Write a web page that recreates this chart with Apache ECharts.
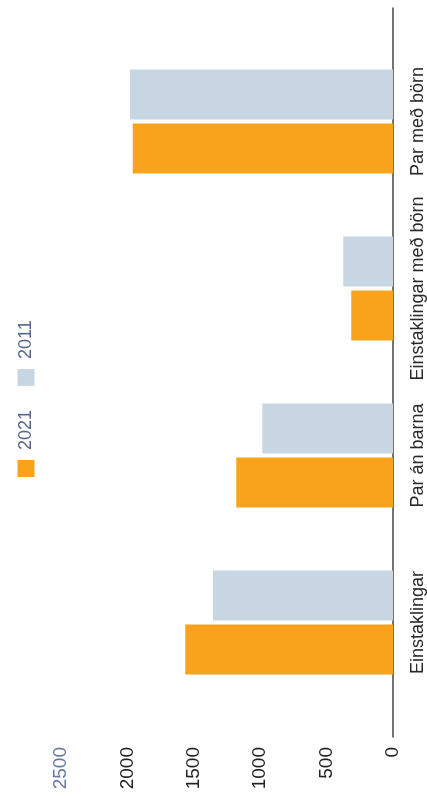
<!DOCTYPE html>
<html>
<head>
<meta charset="utf-8">
<script src="https://cdn.jsdelivr.net/npm/echarts@6/dist/echarts.min.js"></script>
<style>
  html, body { margin: 0; padding: 0; width: 427px; height: 799px; overflow: hidden; background: #fff; }
  /* the source chart is printed sideways, so draw it upright and turn it */
  #main {
    position: absolute; left: 0; top: 0;
    width: 799px; height: 427px;
    transform-origin: 0 0;
    transform: translateY(799px) rotate(-90deg);
  }
</style>
</head>
<body>
<div id="main"></div>
<script>
var categories = ['Einstaklingar', 'Par án barna', 'Einstaklingar með börn', 'Par með börn']
var values2021 = [1565, 1180, 315, 1960]
var values2011 = [1355, 985, 375, 1980]
var valueTicks = [0, 500, 1000, 1500, 2000, 2500]

var myChart = echarts.init(document.getElementById('main'))
var font = 'Liberation Sans, Arial, sans-serif'

var option = {
  animation: false,
  legend: {
    left: 317,
    top: 12,
    itemWidth: 17,
    itemHeight: 17,
    itemGap: 24,
    icon: 'rect',
    data: ['2021', '2011'],
    textStyle: { color: '#56668a', fontSize: 18, fontFamily: font, padding: [0, 0, 0, 5] }
  },
  grid: [
    // bars
    { left: 93, right: 38, top: 61, bottom: 34 },
    // full length base line + value labels
    { left: 62, right: 8, top: 61, bottom: 34 }
  ],
  xAxis: [
    {
      type: 'category',
      gridIndex: 0,
      data: categories,
      axisLine: { show: false },
      axisTick: { show: false },
      axisLabel: { color: '#2a2a2a', fontSize: 18, fontFamily: font, margin: 16, interval: 0 }
    },
    {
      type: 'value',
      gridIndex: 1,
      min: 0,
      max: 1,
      axisLine: { show: true, lineStyle: { color: '#444', width: 1.5 } },
      axisTick: { show: false },
      axisLabel: { show: false },
      splitLine: { show: false }
    }
  ],
  yAxis: [
    {
      type: 'value',
      gridIndex: 0,
      min: valueTicks[0],
      max: valueTicks[valueTicks.length - 1],
      interval: 500,
      axisLine: { show: false },
      axisTick: { show: false },
      axisLabel: { show: false },
      splitLine: { show: false }
    },
    {
      type: 'value',
      gridIndex: 1,
      min: valueTicks[0],
      max: valueTicks[valueTicks.length - 1],
      interval: 500,
      axisLine: { show: false },
      axisTick: { show: false },
      splitLine: { show: false },
      axisLabel: {
        margin: 10,
        fontSize: 19,
        fontFamily: font,
        color: '#222',
        formatter: function (v) {
          return v === 2500 ? '{top|' + v + '}' : String(v)
        },
        rich: {
          top: { color: '#6878a0', fontSize: 19, fontFamily: font }
        }
      }
    }
  ],
  series: [
    {
      name: '2021',
      type: 'bar',
      xAxisIndex: 0,
      yAxisIndex: 0,
      barWidth: 50,
      barGap: '8%',
      itemStyle: { color: '#f9a21c' },
      data: values2021
    },
    {
      name: '2011',
      type: 'bar',
      xAxisIndex: 0,
      yAxisIndex: 0,
      barWidth: 50,
      barGap: '8%',
      itemStyle: { color: '#c8d6e3' },
      data: values2011
    }
  ]
}
myChart.setOption(option)
</script>
</body>
</html>
